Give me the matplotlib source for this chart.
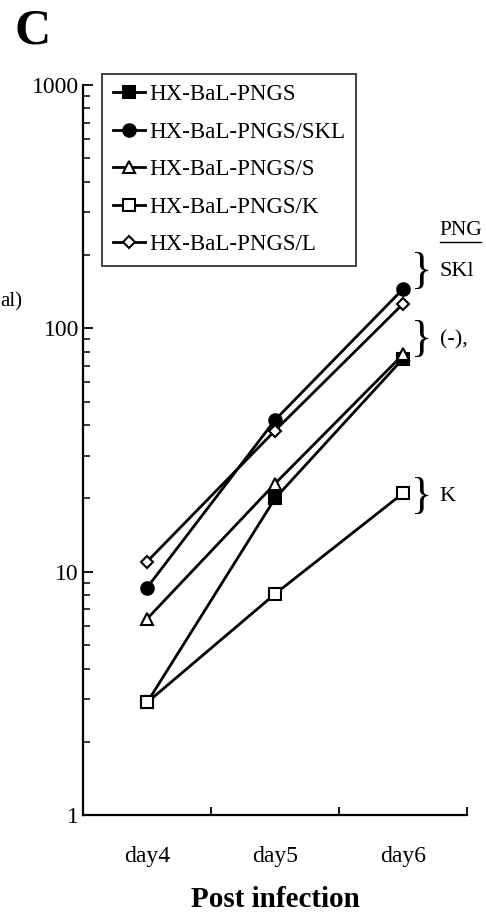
import matplotlib.pyplot as plt
from matplotlib.ticker import LogLocator, NullFormatter, FixedLocator

plt.rcParams['font.family'] = ['Liberation Serif', 'DejaVu Serif']

days = ['day4', 'day5', 'day6']
pngs = [2.9, 20, 75]
pngs_skl = [8.6, 42, 145]
pngs_s = [6.4, 23, 78]
pngs_k = [2.9, 8.1, 21]
pngs_l = [11, 38, 126]

series = [
    ('HX-BaL-PNGS', pngs, 's', 'black'),
    ('HX-BaL-PNGS/SKL', pngs_skl, 'o', 'black'),
    ('HX-BaL-PNGS/S', pngs_s, '^', 'white'),
    ('HX-BaL-PNGS/K', pngs_k, 's', 'white'),
    ('HX-BaL-PNGS/L', pngs_l, 'D', 'white'),
]

fig = plt.figure(figsize=(4.86, 9.22), dpi=100)
ax = fig.add_axes([0.171, 0.116, 0.79, 0.792])
x = list(range(len(days)))

for name, vals, mk, fc in series:
    ms = 6.5 if mk == 'D' else 9
    ax.plot(x, vals, color='black', lw=2, marker=mk, ms=ms,
            mfc=fc, mec='black', mew=1.5, label=name)

ax.set_yscale('log')
ax.set_ylim(1, 1000)
ax.set_xlim(-0.5, 2.5)

ax.yaxis.set_minor_locator(LogLocator(base=10, subs=range(2, 10)))
ax.yaxis.set_minor_formatter(NullFormatter())
ax.set_yticks([1, 10, 100, 1000])
ax.set_yticklabels(['1', '10', '100', '1000'])
ax.tick_params(axis='y', which='major', direction='in', length=7, width=1.3,
               labelsize=17, pad=3)
ax.tick_params(axis='y', which='minor', direction='in', length=5, width=1.1)

ax.xaxis.set_major_locator(FixedLocator([0.5, 1.5, 2.5]))
ax.xaxis.set_major_formatter(NullFormatter())
ax.set_xticks(x, labels=days, minor=True)
ax.tick_params(axis='x', which='major', direction='in', length=6, width=1.3)
ax.tick_params(axis='x', which='minor', length=0, labelsize=17, pad=22)

for s in ['top', 'right']:
    ax.spines[s].set_visible(False)
for s in ['left', 'bottom']:
    ax.spines[s].set_linewidth(1.6)

ax.set_xlabel('Post infection', fontsize=21, fontweight='bold', labelpad=14)

leg = ax.legend(loc='upper left', bbox_to_anchor=(0.05, 1.015), fontsize=16.5,
                frameon=True, fancybox=False, edgecolor='black',
                handlelength=1.4, handletextpad=0.2, labelspacing=0.72,
                borderpad=0.45, borderaxespad=0)
leg.get_frame().set_linewidth(1.3)

fig.text(0.03, 0.966, 'C', fontsize=36, fontweight='bold', va='center')
fig.text(0.905, 0.75, 'PNG', fontsize=15.5, va='center')
fig.add_artist(plt.Line2D([0.905, 0.99], [0.737, 0.737], color='black', lw=1))

brace_specs = [(0.705, 'SKl'), (0.631, '(-),'), (0.461, 'K')]
for yy, lab in brace_specs:
    fig.text(0.845, yy, '}', fontsize=32, va='center', ha='left')
    fig.text(0.905, yy, lab, fontsize=16, va='center', ha='left')

fig.text(0.0, 0.673, 'al)', fontsize=15, va='center')

fig.savefig('out.png', dpi=100)
